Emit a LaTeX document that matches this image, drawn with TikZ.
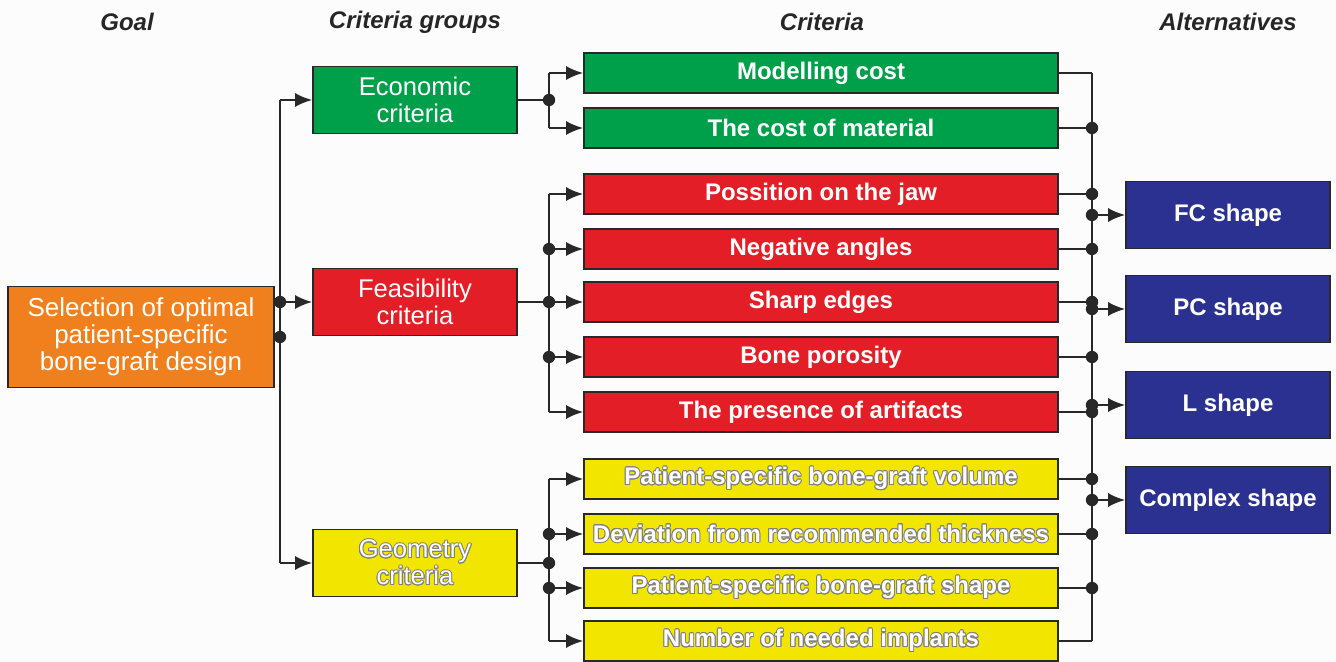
\documentclass[tikz,border=0pt]{standalone}
\usepackage{fontspec}
\setmainfont{Liberation Sans}
\usepackage{xcolor}
\usepackage{contour}
\usepackage{tikz}
\usetikzlibrary{arrows.meta}

\contourlength{0.45pt}
\definecolor{linegray}{RGB}{40,40,40}
\definecolor{bggray}{RGB}{252,252,252}
\definecolor{goalorange}{RGB}{240,128,30}
\definecolor{econgreen}{RGB}{0,160,75}
\definecolor{feasred}{RGB}{228,30,38}
\definecolor{geomyellow}{RGB}{242,230,0}
\definecolor{altblue}{RGB}{43,49,145}

\begin{document}
\begin{tikzpicture}[x=0.5pt, y=-0.5pt,
  box/.style={draw=linegray, line width=0.8pt, text=white, align=center, inner sep=0pt,
    font=\fontsize{12}{14.5}\selectfont\bfseries},
  grp/.style={box, minimum width=102pt, minimum height=33.5pt},
  crit/.style={box, minimum width=237pt, minimum height=20pt},
  head/.style={font=\fontsize{12}{14}\selectfont\bfseries\itshape, text=black!85},
  link/.style={draw=linegray, line width=1.1pt},
  arr/.style={link, -{Latex[length=8.5pt, width=7pt]}}]

  \fill[bggray] (0,0) rectangle (1336,662);

  % column titles
  \node[head] (hgoal) at (127,22) {Goal};
  \node[head] (hgroups) at (415,22) {Criteria groups};
  \node[head] (hcrit) at (822,22) {Criteria};
  \node[head] (halt) at (1228,22) {Alternatives};

  \node[box, fill=goalorange, minimum width=133pt, minimum height=50.5pt,
    font=\fontsize{13}{13.5}\selectfont] (goal) at (141,337)
    {Selection of optimal\\patient-specific\\bone-graft design};

  \node[grp, fill=econgreen, font=\fontsize{12.8}{13.5}\selectfont] (econ) at (415,100) {Economic\\criteria};
  \node[grp, fill=feasred, font=\fontsize{12.8}{13.5}\selectfont] (feas) at (415,302) {Feasibility\\criteria};
  \node[grp, fill=geomyellow, font=\fontsize{12.8}{13.5}\selectfont] (geom) at (415,563)
    {\contour{gray}{Geometry}\\\contour{gray}{criteria}};

  \foreach \n/\y/\col/\txt in {c1/73/econgreen/Modelling cost,
                               c2/128/econgreen/The cost of material,
                               c3/194/feasred/Possition on the jaw,
                               c4/249/feasred/Negative angles,
                               c5/302/feasred/Sharp edges,
                               c6/357/feasred/Bone porosity,
                               c7/412/feasred/The presence of artifacts}
    \node[crit, fill=\col] (\n) at (821,\y) {\txt};
  \foreach \n/\y/\txt in {c8/479/Patient-specific bone-graft volume,
                          c9/534/Deviation from recommended thickness,
                          c10/588/Patient-specific bone-graft shape,
                          c11/641/Number of needed implants}
    \node[crit, fill=geomyellow] (\n) at (821,\y) {\contour{gray}{\txt}};

  \foreach \n/\y/\txt in {fc/215/FC shape, pc/309/PC shape, ls/405/L shape, cs/500/Complex shape}
    \node[grp, fill=altblue] (\n) at (1228,\y) {\txt};

  % vertical buses
  \coordinate (lbus) at (280,0);
  \coordinate (mbus) at (549,0);
  \coordinate (rbus) at (1092,0);

  % goal -> groups
  \draw[link] (goal.east) -- (goal.east -| lbus);
  \draw[link] (econ.west -| lbus) -- (geom.west -| lbus);
  \foreach \g in {econ, feas, geom}
    \draw[arr] (\g.west -| lbus) -- (\g.west);
  \fill[linegray] (goal.east -| lbus) circle (3.1pt) (feas.west -| lbus) circle (3.1pt);

  % groups -> criteria
  \draw[link] (econ.east) -- (econ.east -| mbus);
  \draw[link] (feas.east) -- (feas.east -| mbus);
  \draw[link] (geom.east) -- (geom.east -| mbus);
  \draw[link] (c1.west -| mbus) -- (c2.west -| mbus);
  \draw[link] (c3.west -| mbus) -- (c7.west -| mbus);
  \draw[link] (c8.west -| mbus) -- (c11.west -| mbus);
  \foreach \c in {c1,c2,c3,c4,c5,c6,c7,c8,c9,c10,c11}
    \draw[arr] (\c.west -| mbus) -- (\c.west);
  \foreach \p in {econ.east, feas.east, geom.east, c4.west, c6.west, c9.west, c10.west}
    \fill[linegray] (\p -| mbus) circle (3.1pt);

  % criteria -> alternatives
  \foreach \c in {c1,c2,c3,c4,c5,c6,c7,c8,c9,c10,c11}
    \draw[link] (\c.east) -- (\c.east -| rbus);
  \draw[link] (c1.east -| rbus) -- (c11.east -| rbus);
  \foreach \c in {c2,c3,c4,c5,c6,c7,c8,c9,c10}
    \fill[linegray] (\c.east -| rbus) circle (3.1pt);
  \foreach \a in {fc, pc, ls, cs}{
    \draw[arr] (\a.west -| rbus) -- (\a.west);
    \fill[linegray] (\a.west -| rbus) circle (3.1pt);
  }
\end{tikzpicture}
\end{document}
